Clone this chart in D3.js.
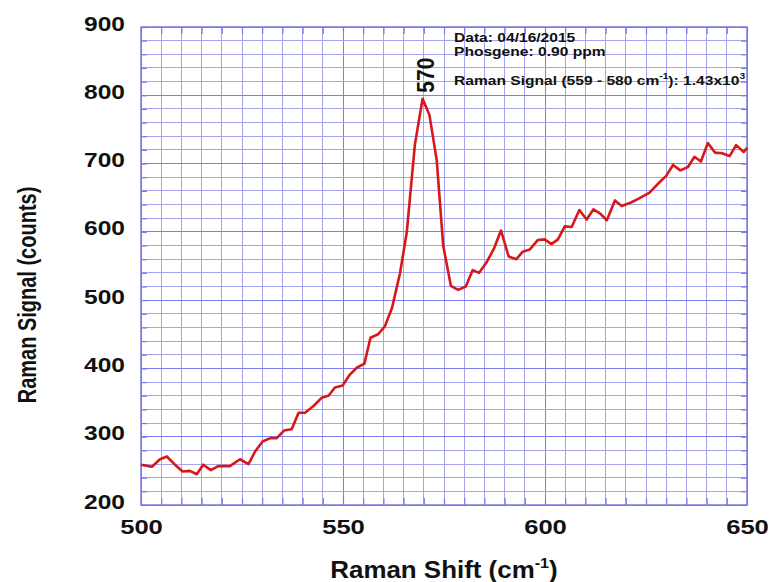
<!DOCTYPE html>
<html>
<head>
<meta charset="utf-8">
<script src="https://cdn.jsdelivr.net/npm/d3@7"></script>
<style>
  html, body { margin: 0; padding: 0; background: #fff; }
  svg { display: block; }
  text { font-family: "Liberation Sans", Arial, Helvetica, sans-serif; font-weight: bold; fill: #111; }
</style>
</head>
<body>
<svg id="chart" width="770" height="582"></svg>
<script>
// ---- data ----
const shift = [500.0, 502.7, 504.7, 506.4, 508.4, 510.3, 512.1, 513.8, 515.4, 517.3,
  519.1, 522.0, 524.5, 526.6, 528.2, 530.1, 532.0, 533.6, 535.4, 537.3,
  539.0, 540.6, 542.7, 544.7, 546.4, 548.0, 549.9, 551.7, 553.4, 555.3,
  556.8, 558.7, 560.4, 562.1, 564.1, 565.8, 567.8, 569.7, 571.4, 573.2,
  574.8, 576.7, 578.5, 580.4, 582.1, 583.7, 585.6, 587.4, 589.1, 591.0,
  592.9, 594.5, 596.2, 598.2, 599.9, 601.6, 603.2, 604.9, 606.6, 608.5,
  610.3, 612.0, 613.6, 615.3, 617.3, 619.0, 621.3, 623.3, 625.8, 627.9,
  630.0, 631.7, 633.5, 635.4, 637.0, 638.6, 640.3, 642.1, 643.8, 645.7,
  647.3, 649.2, 650.0];
const counts = [259, 256, 267, 271, 259, 249, 250, 245, 259, 251,
  257, 257, 267, 260, 278, 293, 298, 298, 309, 311,
  335, 335, 345, 357, 360, 372, 375, 391, 401, 407,
  445, 450, 462, 488, 539, 600, 728, 795, 771, 705,
  580, 521, 515, 520, 544, 540, 556, 576, 602, 564,
  560, 571, 574, 588, 589, 582, 589, 608, 607, 632,
  618, 633, 627, 617, 646, 638, 643, 649, 657, 670,
  682, 698, 690, 695, 710, 703, 730, 716, 715, 711,
  727, 717, 723];
const xTickLabels = [500, 550, 600, 650];
const yTickLabels = [200, 300, 400, 500, 600, 700, 800, 900];
const xMinorStep = 5;
const yMinorStep = 20;
const peakLabel = "570";
const peakShift = 570;
const infoLines = ["Data: 04/16/2015", "Phosgene: 0.90 ppm"];

// ---- layout ----
const svg = d3.select("#chart");
const L = 141, R = 747, T = 27, B = 505;
const x = d3.scaleLinear().domain([500, 650]).range([L, R]);
const y = d3.scaleLinear().domain([200, 900]).range([B, T]);

const minorColor = "#a4a4f2";
const majorColor = "#7c7cf0";
const frameColor = "#7a7ae6";

// grid
const xMinor = d3.range(500, 650 + 0.001, xMinorStep);
const yMinor = d3.range(200, 900 + 0.001, yMinorStep);
const g = svg.append("g").attr("shape-rendering", "crispEdges");
g.selectAll("line.xm").data(xMinor).join("line")
  .attr("x1", d => x(d)).attr("x2", d => x(d)).attr("y1", T).attr("y2", B)
  .attr("stroke", d => (d % 50 === 0) ? majorColor : minorColor)
  .attr("stroke-width", 1);
g.selectAll("line.ym").data(yMinor).join("line")
  .attr("y1", d => y(d)).attr("y2", d => y(d)).attr("x1", L).attr("x2", R)
  .attr("stroke", d => (d % 100 === 0) ? majorColor : minorColor)
  .attr("stroke-width", 1);

// inside tick marks on all four sides
function styleTicks(sel) {
  sel.select(".domain").remove();
  sel.selectAll(".tick line").attr("stroke", frameColor).attr("stroke-width", 1.2);
  sel.selectAll(".tick text").remove();
}
svg.append("g").attr("transform", `translate(0,${B})`)
  .call(d3.axisBottom(x).tickValues(xMinor).tickSize(-7).tickFormat("")).call(styleTicks);
svg.append("g").attr("transform", `translate(0,${T})`)
  .call(d3.axisTop(x).tickValues(xMinor).tickSize(-7).tickFormat("")).call(styleTicks);
svg.append("g").attr("transform", `translate(${L},0)`)
  .call(d3.axisLeft(y).tickValues(yMinor).tickSize(-6).tickFormat("")).call(styleTicks);
svg.append("g").attr("transform", `translate(${R},0)`)
  .call(d3.axisRight(y).tickValues(yMinor).tickSize(-6).tickFormat("")).call(styleTicks);

// frame
svg.append("rect").attr("x", L).attr("y", T).attr("width", R - L).attr("height", B - T)
  .attr("fill", "none").attr("stroke", frameColor).attr("stroke-width", 1.5);

// axis labels
const xAx = svg.append("g").attr("transform", `translate(0,${B})`)
  .call(d3.axisBottom(x).tickValues(xTickLabels).tickSize(0).tickFormat(d3.format("d")));
xAx.select(".domain").remove();
xAx.selectAll(".tick line").remove();
xAx.selectAll(".tick text")
  .attr("y", 0).attr("dy", 0).attr("x", 0)
  .attr("transform", "translate(0,29) scale(1.22,1)")
  .style("font-size", "21px").attr("fill", "#111")
  .style("font-family", "'Liberation Sans', Arial, sans-serif").style("font-weight", "bold");

const yAx = svg.append("g").attr("transform", `translate(${L},0)`)
  .call(d3.axisLeft(y).tickValues(yTickLabels).tickSize(0).tickFormat(d3.format("d")));
yAx.select(".domain").remove();
yAx.selectAll(".tick line").remove();
yAx.selectAll(".tick text")
  .attr("x", 0).attr("dy", 0)
  .attr("transform", "translate(-16,3) scale(1.26,1)")
  .attr("text-anchor", "end")
  .style("font-size", "19.5px").attr("fill", "#111")
  .style("font-family", "'Liberation Sans', Arial, sans-serif").style("font-weight", "bold");

// line
const line = d3.line().x((d, i) => x(shift[i])).y(d => y(d));
svg.append("path").datum(counts)
  .attr("d", line)
  .attr("fill", "none").attr("stroke", "#d81818").attr("stroke-width", 2.6)
  .attr("stroke-linejoin", "round");

// peak label
const peakIdx = counts.indexOf(d3.max(counts));
svg.append("text")
  .attr("transform", `translate(${x(peakShift) + 10},${y(counts[peakIdx]) - 6}) scale(1.13,1) rotate(-90)`)
  .attr("text-anchor", "start")
  .style("font-size", "21px")
  .text(peakLabel);

// info text
const info = svg.append("g").attr("transform", "translate(454,0)");
info.selectAll("text.info").data(infoLines).join("text")
  .attr("class", "info")
  .attr("transform", (d, i) => `translate(0,${42 + i * 13.5}) scale(1.2,1)`)
  .style("font-size", "13px").text(d => d);
const t3 = info.append("text").attr("transform", "translate(0,85) scale(1.2,1)").style("font-size", "13px");
t3.append("tspan").text("Raman Signal (559 - 580 cm");
t3.append("tspan").attr("dy", -6).style("font-size", "8.5px").text("-1");
t3.append("tspan").attr("dy", 6).text("): 1.43x10");
t3.append("tspan").attr("dy", -6).style("font-size", "8.5px").text("3");

// axis titles
const xt = svg.append("text")
  .attr("transform", "translate(444,578) scale(1.08,1)")
  .attr("text-anchor", "middle").style("font-size", "24px");
xt.append("tspan").text("Raman Shift (cm");
xt.append("tspan").attr("dy", -10).style("font-size", "15px").text("-1");
xt.append("tspan").attr("dy", 10).text(")");

svg.append("text")
  .attr("transform", "translate(36,295) scale(1.3,1) rotate(-90)")
  .attr("text-anchor", "middle").style("font-size", "20px")
  .text("Raman Signal (counts)");
</script>
</body>
</html>
